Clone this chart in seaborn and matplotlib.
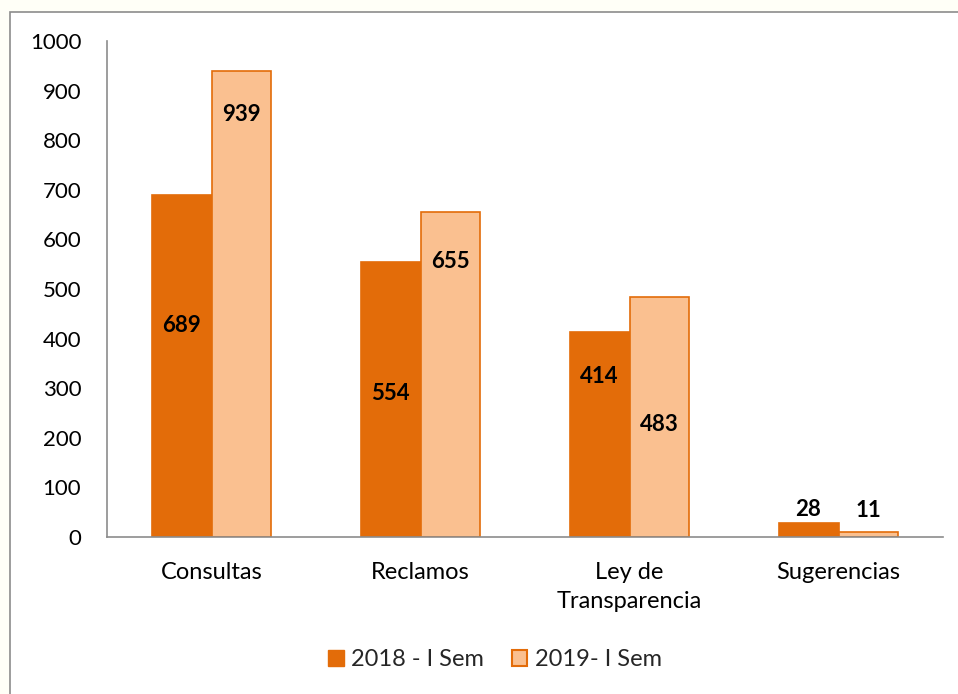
import matplotlib
matplotlib.use("Agg")
import matplotlib.pyplot as plt
import seaborn as sns
import pandas as pd
from matplotlib.patches import Rectangle

categories = ["Consultas", "Reclamos", "Ley de\nTransparencia", "Sugerencias"]
series = ["2018 - I Sem", "2019- I Sem"]
values_2018 = [689, 554, 414, 28]
values_2019 = [939, 655, 483, 11]
# vertical position (data units) of each value label, as in the reference
label_y_2018 = [427, 290, 323, 56]
label_y_2019 = [851, 556, 226, 54]
yticks = [0, 100, 200, 300, 400, 500, 600, 700, 800, 900, 1000]

df = pd.DataFrame({
    "cat": categories * 2,
    "serie": [series[0]] * 4 + [series[1]] * 4,
    "val": values_2018 + values_2019,
})

sns.set_theme(style="white")
plt.rcParams["font.family"] = ["Lato", "DejaVu Sans"]

fig = plt.figure(figsize=(9.58, 6.94), dpi=100)
fig.patch.set_facecolor("#FFFFF7")
fig.patches.append(Rectangle((10 / 958, -0.01), 1.0, 1 - 12 / 694 + 0.01,
                             transform=fig.transFigure, facecolor="white",
                             edgecolor="#8C8C8C", linewidth=1.2, zorder=-10))

ax = fig.add_axes([107 / 958, 1 - 537 / 694, (943 - 107) / 958, (537 - 41) / 694])
ax.set_zorder(1)
ax.set_facecolor("none")
dark = "#E36C09"
light = "#FAC090"
sns.barplot(data=df, x="cat", y="val", hue="serie", order=categories,
            hue_order=series, palette=[dark, light], width=0.574,
            saturation=1, ax=ax, legend=False)
for i, p in enumerate(ax.patches[:8]):
    p.set_edgecolor(dark)
    p.set_linewidth(1.2)

xs = range(len(categories))
bw = 0.574 / 2
for i in xs:
    ax.text(i - bw / 2, label_y_2018[i], str(values_2018[i]), ha="center", va="center",
            fontsize=16, fontweight="bold", color="black")
    ax.text(i + bw / 2, label_y_2019[i], str(values_2019[i]), ha="center", va="center",
            fontsize=16, fontweight="bold", color="black")

ax.set_ylim(0, 1000)
ax.set_xlim(-0.5, 3.5)
ax.set_yticks(yticks)
ax.set_yticklabels([str(t) for t in yticks], fontsize=16, color="black")
ax.set_xticks([-0.5, 0.5, 1.5, 2.5, 3.5], minor=False)
ax.set_xticklabels([])
ax.set_xticks(list(xs), minor=True)
ax.set_xticklabels(categories, minor=True, fontsize=17, color="black")
for t in ax.get_xticklabels(minor=True):
    t.set_linespacing(1.45)
ax.tick_params(axis="x", which="major", length=6.5, width=1, color="#8C8C8C", direction="out")
ax.tick_params(axis="x", which="minor", length=0, pad=18)
ax.tick_params(axis="y", length=6.5, width=1, color="#8C8C8C", direction="out", pad=12)
ax.set_xlabel("")
ax.set_ylabel("")
for s in ["top", "right"]:
    ax.spines[s].set_visible(False)
for s in ["left", "bottom"]:
    ax.spines[s].set_color("#8C8C8C")
    ax.spines[s].set_linewidth(1.2)

handles = [Rectangle((0, 0), 1, 1, facecolor=dark, edgecolor=dark),
           Rectangle((0, 0), 1, 1, facecolor=light, edgecolor=dark, linewidth=1.5)]
fig.legend(handles, series, loc="center", bbox_to_anchor=(495 / 958, 1 - 660 / 694),
           ncol=2, frameon=False, fontsize=17, handlelength=0.65, handleheight=0.65,
           handletextpad=0.3, columnspacing=1.2)

fig.savefig("out.png", dpi=100, facecolor=fig.get_facecolor())
